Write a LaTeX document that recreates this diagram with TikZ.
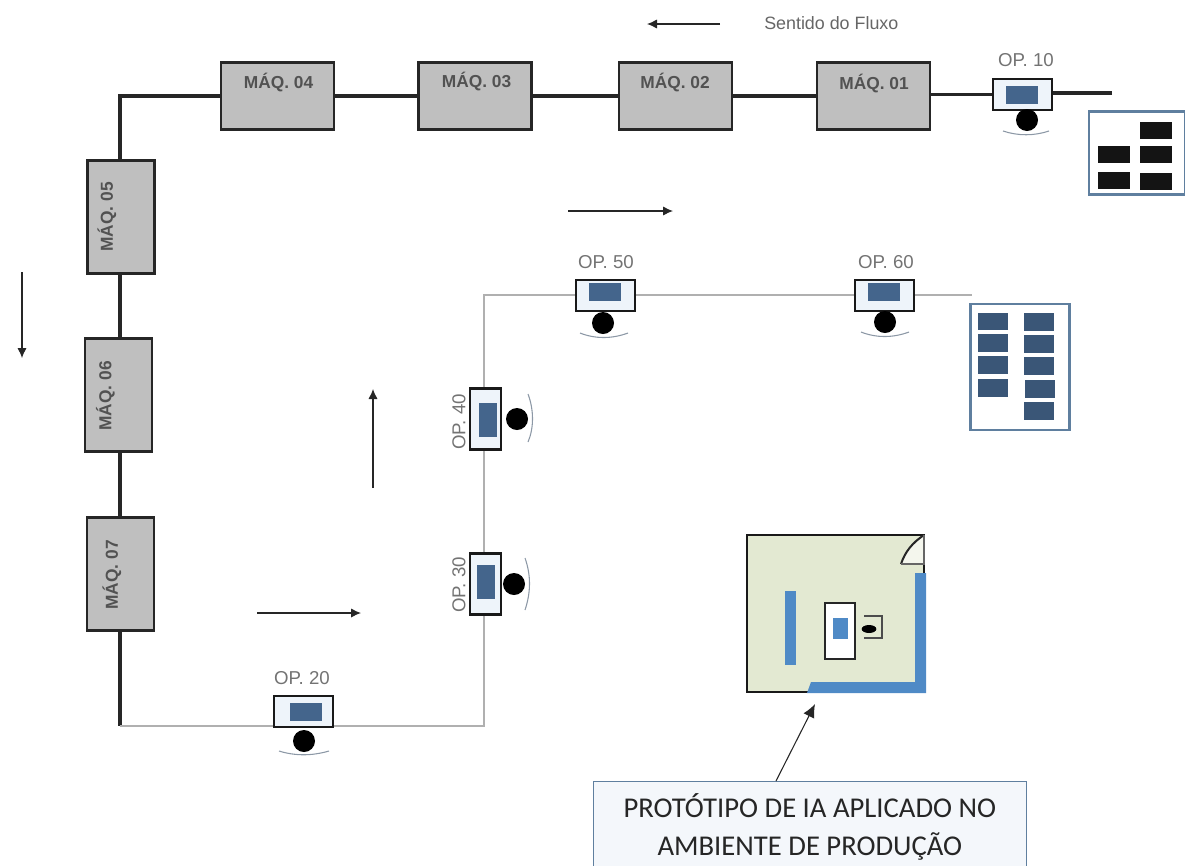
\documentclass[tikz,border=0pt]{standalone}
\usepackage{fontspec}
\setmainfont{Liberation Sans}
\newfontfamily\boxfont{Carlito}
\usetikzlibrary{arrows.meta,shapes.geometric}
\definecolor{opblue}{HTML}{44658C}
\definecolor{wallblue}{HTML}{4F8AC6}
\definecolor{roomgreen}{HTML}{E3E9D2}
\definecolor{framebl}{HTML}{5F7F9F}
\definecolor{linegrey}{HTML}{B0B0B0}
\definecolor{opbase}{HTML}{EEF4FA}
\definecolor{calloutfill}{HTML}{F4F7FB}
\definecolor{arcblue}{HTML}{8C98A6}
\tikzset{
  x=0.75pt,y=-0.75pt,
  machh/.style={draw=black!85,line width=1.6pt,fill=black!25,minimum width=84.75pt,minimum height=50.25pt,inner sep=0pt},
  machv/.style={draw=black!85,line width=1.6pt,fill=black!25,minimum width=50.25pt,minimum height=84.75pt,inner sep=0pt},
  machtext/.style={font=\bfseries\fontsize{13}{15}\selectfont,text=black!68,inner sep=0pt},
  optext/.style={font=\fontsize{14}{16}\selectfont,text=black!55,inner sep=0pt},
  ophbox/.style={draw=black!90,line width=1.8pt,fill=opbase,minimum width=44pt,minimum height=23pt,inner sep=0pt},
  opvbox/.style={draw=black!90,line width=1.8pt,fill=opbase,minimum width=23pt,minimum height=46pt,inner sep=0pt},
  ophscreen/.style={fill=opblue,minimum width=24pt,minimum height=14pt,inner sep=0pt},
  opvscreen/.style={fill=opblue,minimum width=13pt,minimum height=26pt,inner sep=0pt},
  head/.style={circle,fill=black,minimum size=16.5pt,inner sep=0pt},
  heavy/.style={draw=black!85,line width=2.8pt},
  light/.style={draw=linegrey,line width=1.5pt},
  flow/.style={draw=black!85,line width=0.9pt,-{Latex[length=7.5pt,width=7pt]}},
  stock/.style={draw=framebl,line width=1.6pt,fill=white,inner sep=0pt},
  dkpart/.style={fill=black!92,minimum width=24pt,minimum height=12.75pt,inner sep=0pt},
  blpart/.style={fill=opblue!85!black,minimum width=23pt,minimum height=13pt,inner sep=0pt},
  arcline/.style={draw=arcblue,line width=0.8pt},
}
\begin{document}
\begin{tikzpicture}
\useasboundingbox (0,0) rectangle (1185,865);
% corners and free ends
\coordinate (endA) at (1112,93);
\coordinate (c1) at (120,96);
\coordinate (c2) at (120,726);
\coordinate (c3) at (484,726);
\coordinate (c4) at (484,295);
\coordinate (endB) at (972,295);
% connectors are drawn under the stations
\begin{scope}
\node[machh] (m1) at (873.5,96) {};
\node[machh] (m2) at (675.5,96) {};
\node[machh] (m3) at (475,96) {};
\node[machh] (m4) at (277.5,96) {};
\node[machv] (m5) at (121,217) {};
\node[machv] (m6) at (118.5,395) {};
\node[machv] (m7) at (120.5,574) {};
\end{scope}
\node[machtext] (tm1) at (874,84) {MÁQ. 01};
\node[machtext] (tm2) at (675,83) {MÁQ. 02};
\node[machtext] (tm3) at (476.5,82) {MÁQ. 03};
\node[machtext] (tm4) at (278.5,83) {MÁQ. 04};
\node[machtext,rotate=90] (tm5) at (107,217) {MÁQ. 05};
\node[machtext,rotate=90] (tm6) at (105.5,396) {MÁQ. 06};
\node[machtext,rotate=90] (tm7) at (112,575) {MÁQ. 07};
% operator stations
\node[ophbox] (o10) at (1022.5,94.5) {};
\node[ophbox] (o20) at (303.5,711.5) {};
\node[ophbox] (o50) at (605.5,295.5) {};
\node[ophbox] (o60) at (884.5,295.5) {};
\node[opvbox] (o40) at (485.5,419) {};
\node[opvbox] (o30) at (485.5,584) {};
\node[ophscreen] (s10) at (1022,95) {};
\node[ophscreen] (s20) at (306,712) {};
\node[ophscreen] (s50) at (605,292) {};
\node[ophscreen] (s60) at (884,292) {};
\node[opvscreen] (s40) at (488,420) {};
\node[opvscreen] (s30) at (486,582) {};
\node[head] (h10) at (1027,120) {};
\node[head] (h20) at (304,741) {};
\node[head] (h50) at (603,323) {};
\node[head] (h60) at (885,322) {};
\node[head] (h40) at (517,419) {};
\node[head] (h30) at (514,584) {};
% connectors
\draw[heavy] (endA) -- (o10.east |- endA);
\draw[heavy] (o10.west) -- (m1.east |- o10.west);
\draw[heavy] (m1) -- (m2);
\draw[heavy] (m2) -- (m3);
\draw[heavy] (m3) -- (m4);
\draw[heavy,line cap=round] (m4) -- (c1) -- (m5.north -| c1);
\draw[heavy] (m5.south -| c1) -- (m6.north -| c1);
\draw[heavy] (m6.south -| c1) -- (m7.north -| c1);
\draw[heavy] (m7.south -| c1) -- (c2);
\draw[light] (c2) -- (o20.west |- c2);
\draw[light] (o20.east |- c3) -- (c3) -- (o30.south -| c3);
\draw[light] (o30.north -| c3) -- (o40.south -| c3);
\draw[light,line width=1.2pt] (o40.north -| c3) -- (c4) -- (o50.west |- c4);
\draw[light,line width=1.2pt] (o50.east |- c4) -- (o60.west |- c4);
\draw[light,line width=1.2pt] (o60.east |- c4) -- (endB);
% operator arcs
\draw[arcline] (1003,131) .. controls (1018,136) and (1034,136) .. (1049,131);
\draw[arcline] (279,751) .. controls (295,756) and (312,756) .. (329,751);
\draw[arcline] (580,333) .. controls (595,339) and (612,339) .. (628,333);
\draw[arcline] (861,332) .. controls (876,338) and (893,338) .. (909,332);
\draw[arcline] (528,394) .. controls (534,410) and (534,428) .. (528,442);
\draw[arcline] (525,558) .. controls (531,575) and (531,592) .. (525,610);
% operator labels
\node[optext] (l10) at (1026,60) {OP. 10};
\node[optext] (l20) at (302,678) {OP. 20};
\node[optext] (l50) at (606,262) {OP. 50};
\node[optext] (l60) at (886,262) {OP. 60};
\node[optext,rotate=90] (l40) at (459,422) {OP. 40};
\node[optext,rotate=90] (l30) at (459,585) {OP. 30};
% flow arrows
\coordinate (f1a) at (720,24); \coordinate (f1b) at (647,24);
\coordinate (f2a) at (568,211); \coordinate (f2b) at (673,211);
\coordinate (f3a) at (22,272); \coordinate (f3b) at (22,358);
\coordinate (f4a) at (373,488); \coordinate (f4b) at (373,389);
\coordinate (f5a) at (257,613); \coordinate (f5b) at (361,613);
\draw[flow] (f1a) -- (f1b);
\draw[flow] (f2a) -- (f2b);
\draw[flow] (f3a) -- (f3b);
\draw[flow] (f4a) -- (f4b);
\draw[flow] (f5a) -- (f5b);
\node[inner sep=0pt,anchor=west,font=\fontsize{13.4}{15}\selectfont,text=black!60] (flowtext) at (764,23) {Sentido do Fluxo};
% stock top right
\node[stock,minimum width=72pt,minimum height=62.25pt] (st1) at (1137,153) {};
\node[dkpart] (a1) at (1156,130.5) {};
\node[dkpart] (a2) at (1114,154.5) {};
\node[dkpart] (a3) at (1156,154.5) {};
\node[dkpart] (a4) at (1114,180) {};
\node[dkpart] (a5) at (1156,181.5) {};
% stock right
\node[stock,minimum width=74.25pt,minimum height=94.5pt] (st2) at (1020,367) {};
\node[blpart] (b1) at (993,321.5) {};
\node[blpart] (b2) at (993,343) {};
\node[blpart] (b3) at (993,365) {};
\node[blpart] (b4) at (993,388) {};
\node[blpart] (b5) at (1039,322) {};
\node[blpart] (b6) at (1039,344) {};
\node[blpart] (b7) at (1039,366) {};
\node[blpart] (b8) at (1040,389) {};
\node[blpart] (b9) at (1039,411) {};
% prototype room
\draw[draw=black!90,line width=1.7pt,fill=roomgreen] (747,535) rectangle (924,692);
\fill[roomgreen!40!white] (924,535) .. controls (912,543) and (905,552) .. (901,564) -- (924,564) -- cycle;
\draw[draw=black!85,line width=1.5pt] (924,535) .. controls (912,543) and (905,552) .. (901,564);
\draw[draw=black!60,line width=0.8pt] (901,564) -- (924,564) -- (924,535);
\fill[wallblue] (915,573) -- (926,573) -- (926,693) -- (807,693) -- (811,682) -- (915,682) -- cycle;
\fill[wallblue] (785,591) rectangle (796,665);
\node[draw=black!85,line width=1.7pt,fill=white,minimum width=22pt,minimum height=42pt,inner sep=0pt] (pdesk) at (840,631) {};
\node[fill=wallblue,minimum width=11pt,minimum height=15.5pt,inner sep=0pt] (pscreen) at (840.5,628.5) {};
\draw[draw=black!70,line width=0.8pt] (864,616) -- (882,616) -- (882,638) -- (864,638);
\node[ellipse,fill=black,minimum width=11pt,minimum height=6pt,inner sep=0pt] (phead) at (869,629) {};
% callout
\node[draw=framebl,line width=1pt,fill=calloutfill,minimum width=325pt,minimum height=67.5pt,inner sep=0pt,anchor=north west,align=center,font=\boxfont\fontsize{21.5}{28.5}\selectfont,text=black!85] (callout) at (592.5,781) {PROTÓTIPO DE IA APLICADO NO\\AMBIENTE DE PRODUÇÃO};
\coordinate (calloutfoot) at (776,781);
\coordinate (roomfoot) at (815,704);
\draw[draw=black!85,line width=0.8pt,-{Latex[length=10pt,width=9pt]}] (calloutfoot) -- (roomfoot);
\end{tikzpicture}
\end{document}
